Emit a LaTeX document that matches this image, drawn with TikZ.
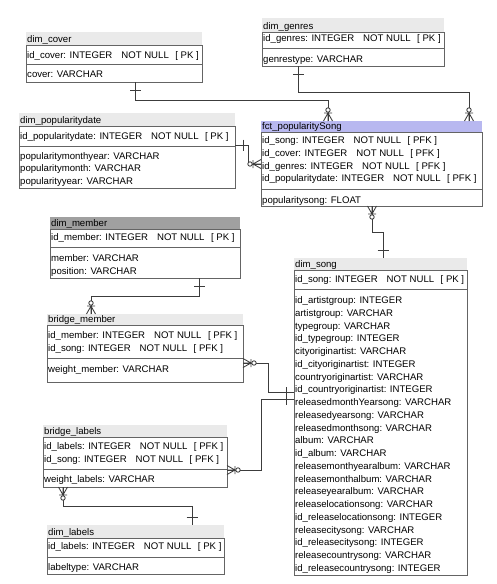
\documentclass[tikz,border=0pt]{standalone}
\usepackage{fontspec}
\setmainfont{Liberation Sans}
\definecolor{hdrc}{RGB}{234,234,234}
\definecolor{facthdr}{RGB}{184,184,240}
\definecolor{darkhdr}{RGB}{160,160,160}
\definecolor{boxc}{RGB}{100,100,100}
\definecolor{connc}{RGB}{60,60,60}
\tikzset{
  tbl/.style={draw=boxc, line width=0.85pt, inner sep=0pt, outer sep=0pt, anchor=north west},
  hdr/.style={draw=none, inner sep=0pt, outer sep=0pt, anchor=north west},
  tblline/.style={draw=boxc, line width=0.85pt},
  txt/.style={inner sep=0pt, anchor=base west, font=\fontsize{9.6}{12}\selectfont, text=black},
  conn/.style={draw=connc, line width=0.85pt},
  crowpic/.pic={\draw[conn] (0,-4.5) -- (8,0) -- (0,4.5) (0,0) -- (8,0) (8,-4) -- (8,4);
                \draw[conn, fill=white] (11,0) circle (2.2);},
  tickpic/.pic={\draw[conn] (8,-5.5) -- (8,5.5);}
}
% #1 name, #2 x1, #3 x2, #4 header top, #5 box top, #6 divider, #7 bottom, #8 title, #9 header colour
\newcommand\mktable[9]{%
  \node[hdr, fill=#9, minimum width=#3-#2, minimum height=#5-#4] (#1H) at (#2,#4) {};
  \node[tbl, minimum width=#3-#2, minimum height=#7-#5] (#1) at (#2,#5) {};
  \draw[tblline] (#2,#6) -- (#3,#6);
  \node[txt] (#1T) at (#2+1,#5-3) {#8};
}
\newcommand\keyrow[2]{#1: INTEGER\hspace{9pt}NOT NULL\hspace{6.5pt}[ #2 ]}
\begin{document}
\begin{tikzpicture}[x=1pt, y=-1pt]
\useasboundingbox (0,0) rectangle (496,584);
\fill[white] (0,0) rectangle (496,584);

% dim_cover
\mktable{cover}{26}{202}{32}{45}{64}{82}{dim\_cover}{hdrc}
\node[txt] (coverR1) at (27,58) {\keyrow{id\_cover}{PK}};
\node[txt] (coverR2) at (27,77) {cover: VARCHAR};

% dim_genres
\mktable{genres}{262}{444}{18}{32}{48}{66}{dim\_genres}{hdrc}
\node[txt] (genresR1) at (263,41.5) {\keyrow{id\_genres}{PK}};
\node[txt] (genresR2) at (263,62.5) {genrestype: VARCHAR};

% fct_popularitySong
\mktable{fct}{261}{482}{121}{132}{189}{206}{fct\_popularitySong}{facthdr}
\node[txt] (fctR1) at (262,143.5) {\keyrow{id\_song}{PFK}};
\node[txt] (fctR2) at (262,156.3) {\keyrow{id\_cover}{PFK}};
\node[txt] (fctR3) at (262,169) {\keyrow{id\_genres}{PFK}};
\node[txt] (fctR4) at (262,181.7) {\keyrow{id\_popularitydate}{PFK}};
\node[txt] (fctR5) at (262,203) {popularitysong: FLOAT};

% dim_popularitydate
\mktable{popdate}{19}{235}{113}{126}{146}{188}{dim\_popularitydate}{hdrc}
\node[txt] (popdateR1) at (20,139.5) {\keyrow{id\_popularitydate}{PK}};
\node[txt] (popdateR2) at (20,159) {popularitymonthyear: VARCHAR};
\node[txt] (popdateR3) at (20,171.8) {popularitymonth: VARCHAR};
\node[txt] (popdateR4) at (20,184.5) {popularityyear: VARCHAR};

% dim_member
\mktable{member}{50}{240}{217}{229}{247}{278}{dim\_member}{darkhdr}
\node[txt] (memberR1) at (51,240.5) {\keyrow{id\_member}{PK}};
\node[txt] (memberR2) at (51,261.5) {member: VARCHAR};
\node[txt] (memberR3) at (51,274.3) {position: VARCHAR};

% bridge_member
\mktable{bmember}{47}{243}{314}{325}{358}{382}{bridge\_member}{hdrc}
\node[txt] (bmemberR1) at (48,338.5) {\keyrow{id\_member}{PFK}};
\node[txt] (bmemberR2) at (48,351.3) {\keyrow{id\_song}{PFK}};
\node[txt] (bmemberR3) at (48,372.5) {weight\_member: VARCHAR};

% dim_song
\mktable{song}{294}{467}{258}{270}{289}{575}{dim\_song}{hdrc}
\node[txt] (songR) at (295,282.5) {\keyrow{id\_song}{PK}};
\foreach \t [count=\i from 0] in {
  id\_artistgroup: INTEGER, artistgroup: VARCHAR, typegroup: VARCHAR,
  id\_typegroup: INTEGER, cityoriginartist: VARCHAR, id\_cityoriginartist: INTEGER,
  countryoriginartist: VARCHAR, id\_countryoriginartist: INTEGER,
  releasedmonthYearsong: VARCHAR, releasedyearsong: VARCHAR,
  releasedmonthsong: VARCHAR, album: VARCHAR, id\_album: VARCHAR,
  releasemonthyearalbum: VARCHAR, releasemonthalbum: VARCHAR,
  releaseyearalbum: VARCHAR, releaselocationsong: VARCHAR,
  id\_releaselocationsong: INTEGER, releasecitysong: VARCHAR,
  id\_releasecitysong: INTEGER, releasecountrysong: VARCHAR,
  id\_releasecountrysong: INTEGER}
  \node[txt] (songR\i) at (295,303.5+12.76*\i) {\t};

% bridge_labels
\mktable{blabels}{43}{227}{425}{437}{469}{487}{bridge\_labels}{hdrc}
\node[txt] (blabelsR1) at (44,449.5) {\keyrow{id\_labels}{PFK}};
\node[txt] (blabelsR2) at (44,462.3) {\keyrow{id\_song}{PFK}};
\node[txt] (blabelsR3) at (44,482.5) {weight\_labels: VARCHAR};

% dim_labels
\mktable{labels}{47}{224}{525}{538}{557}{574}{dim\_labels}{hdrc}
\node[txt] (labelsR1) at (48,549.5) {\keyrow{id\_labels}{PK}};
\node[txt] (labelsR2) at (48,570.5) {labeltype: VARCHAR};

% connectors
\draw[conn] (cover.south -| 135,0) |- (328,100) -- (fctH.north -| 328,0);
\draw[conn] (genres.south -| 298,0) |- (469,92) -- (fctH.north -| 469,0);
\draw[conn] (popdate.east |- 0,145) -| (248,164) -- (fct.west |- 0,164);
\draw[conn] (fct.south -| 372,0) |- (383,232) -- (songH.north -| 383,0);
\draw[conn] (member.south -| 199,0) |- (91,296) -- (bmemberH.north -| 91,0);
\draw[conn] (bmember.east |- 0,363) -| (268,392) -- (song.west |- 0,392);
\draw[conn] (blabels.east |- 0,470) -| (261,399) -- (song.west |- 0,399);
\draw[conn] (blabels.south -| 63,0) |- (192,506) -- (labelsH.north -| 192,0);

% ends
\pic[rotate=-90] at (cover.south -| 135,0) {tickpic};
\pic[rotate=90] at (fctH.north -| 328,0) {crowpic};
\pic[rotate=-90] at (genres.south -| 298,0) {tickpic};
\pic[rotate=90] at (fctH.north -| 469,0) {crowpic};
\pic at (popdate.east |- 0,145) {tickpic};
\pic[rotate=180] at (fct.west |- 0,164) {crowpic};
\pic[rotate=-90] at (fct.south -| 372,0) {crowpic};
\pic[rotate=90] at (songH.north -| 383,0) {tickpic};
\pic[rotate=-90] at (member.south -| 199,0) {tickpic};
\pic[rotate=90] at (bmemberH.north -| 91,0) {crowpic};
\pic at (bmember.east |- 0,363) {crowpic};
\pic[rotate=180] at (song.west |- 0,392) {tickpic};
\pic at (blabels.east |- 0,470) {crowpic};
\pic[rotate=180] at (song.west |- 0,399) {tickpic};
\pic[rotate=-90] at (blabels.south -| 63,0) {crowpic};
\pic[rotate=90] at (labelsH.north -| 192,0) {tickpic};
\end{tikzpicture}
\end{document}
